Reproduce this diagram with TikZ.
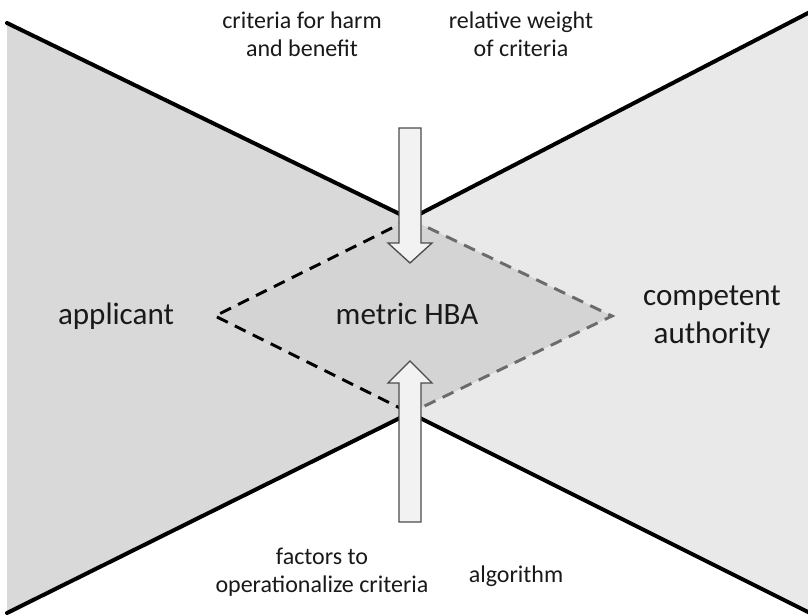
\documentclass[tikz,border=0pt]{standalone}
\usepackage{fontspec}
\setmainfont{Carlito}
\usetikzlibrary{calc,positioning}

\definecolor{leftgray}{gray}{0.85}
\definecolor{rightgray}{gray}{0.915}
\definecolor{hbagray}{gray}{0.83}
\definecolor{dashgray}{gray}{0.42}
\definecolor{arrowfill}{gray}{0.95}
\definecolor{arrowline}{gray}{0.3}

\begin{document}
\begin{tikzpicture}[x=0.75pt,y=-0.75pt]
\tikzstyle{party}=[font=\fontsize{23.3}{27.8}\selectfont, align=center, text=black!90]
\tikzstyle{input}=[font=\fontsize{18}{21}\selectfont, align=center, text=black!90]
\tikzstyle{wall}=[line width=3pt, line cap=round]
\tikzstyle{fence}=[line width=2.2pt, dash pattern=on 9pt off 6pt]
\tikzstyle{blockarrow}=[fill=arrowfill, draw=arrowline, line width=1pt, line join=miter]

\useasboundingbox (0,0) rectangle (808,615);

\coordinate (tl) at (7,23);
\coordinate (bl) at (7,613);
\coordinate (tr) at (810,12);
\coordinate (br) at (810,613);
\coordinate (waistTop) at (410,219);
\coordinate (waistBot) at (410,413);
\coordinate (hbaL) at (215,316);
\coordinate (hbaR) at (612,316);

\fill[leftgray] (tl) -- (waistTop) -- (waistBot) -- (bl) -- cycle;
\fill[rightgray] (tr) -- (waistTop) -- (waistBot) -- (br) -- cycle;
\fill[hbagray] (waistTop) -- (hbaR) -- (waistBot) -- (hbaL) -- cycle;

\draw[wall] (tl) -- (waistTop) -- (tr);
\draw[wall] (bl) -- (waistBot) -- (br);
\draw[fence] (waistTop) -- (hbaL) -- (waistBot);
\draw[fence, dashgray] (waistTop) -- (hbaR) -- (waistBot);

\coordinate (inTop) at (410,128);
\coordinate (tipTop) at (410,263);
\coordinate (inBot) at (410,522);
\coordinate (tipBot) at (410,361);

\draw[blockarrow] ($(inTop)+(-11,0)$) -- ($(tipTop)+(-11,-20)$) -- ($(tipTop)+(-22,-20)$)
  -- (tipTop) -- ($(tipTop)+(22,-20)$) -- ($(tipTop)+(11,-20)$) -- ($(inTop)+(11,0)$) -- cycle;
\draw[blockarrow] ($(inBot)+(-11,0)$) -- ($(tipBot)+(-11,22)$) -- ($(tipBot)+(-22,22)$)
  -- (tipBot) -- ($(tipBot)+(22,22)$) -- ($(tipBot)+(11,22)$) -- ($(inBot)+(11,0)$) -- cycle;

\node[party, anchor=base] (applicant) at (116,324) {applicant};
\node[party, anchor=base] (hba) at (407,324) {metric HBA};
\node[party, anchor=base] (authority) at (712,343) {competent\\authority};

\node[input, anchor=base] (criteria) at (302,56) {criteria for harm\\and benefit};
\node[input, anchor=base] (weight) at (521,56) {relative weight\\of criteria};
\node[input, anchor=base] (factors) at (322,592) {factors to\\operationalize criteria};
\node[input, anchor=base] (algorithm) at (516,582) {algorithm};
\end{tikzpicture}
\end{document}
